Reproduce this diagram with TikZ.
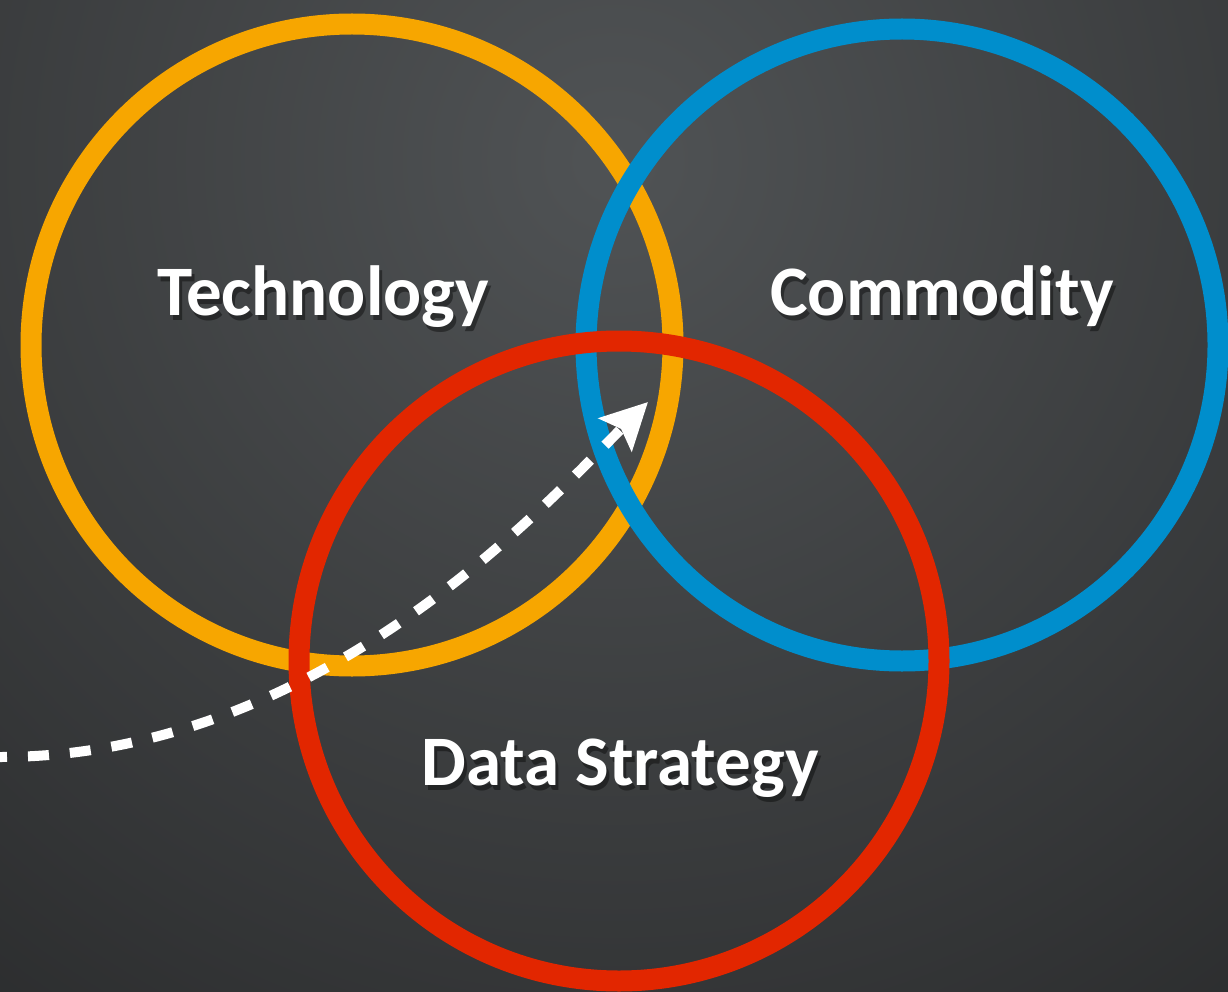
\documentclass[tikz,border=0pt]{standalone}
\usepackage{fontspec}
\setmainfont{Carlito}
\usepackage{xcolor}
\usetikzlibrary{arrows.meta}

\definecolor{ringorange}{RGB}{247,166,0}
\definecolor{ringblue}{RGB}{0,142,204}
\definecolor{ringred}{RGB}{226,38,0}
\definecolor{bglight}{RGB}{80,83,85}
\definecolor{bgdark}{RGB}{36,37,38}

% label with a soft drop shadow: name, base point, text
\newcommand\ringlabel[3]{%
  \node[labelshade,xshift=3pt,yshift=-5pt] (#1shade) at (#2) {#3};
  \node[labeltext] (#1) at (#2) {#3};}

\begin{document}
\begin{tikzpicture}[x=1pt,y=-1pt,
    ring/.style={line width=21pt},
    labeltext/.style={anchor=base,inner sep=0pt,text=white,
      font=\bfseries\fontsize{71}{84}\selectfont},
    labelshade/.style={labeltext,text=black,text opacity=0.4},
    flow/.style={white,line width=10pt,dash pattern=on 21pt off 21pt,
      dash phase=14pt,-{Stealth[length=46pt,width=46pt,inset=8pt]}}]
  \useasboundingbox (0,0) rectangle (1228,992);

  % background
  \begin{scope}
    \clip (0,0) rectangle (1228,992);
    \fill[bgdark] (0,0) rectangle (1228,992);
    \shade[inner color=bglight,outer color=bgdark] (614,160) circle[radius=1300pt];
  \end{scope}

  % the three rings
  \draw[ring,ringorange] (352,345) circle[radius=321pt];
  \draw[ring,ringblue] (902,345) circle[radius=316pt];
  \draw[ring,ringred] (619,661) circle[radius=320pt];

  \ringlabel{tech}{323,315}{Technology}
  \ringlabel{comm}{942,315}{Commodity}
  \ringlabel{data}{620,785}{Data Strategy}

  % dashed path into the middle
  \coordinate (start) at (0,757);
  \coordinate (tip) at (648,402);
  \draw[flow] (start) .. controls (320,757) and (548,502) .. (tip);
\end{tikzpicture}
\end{document}
